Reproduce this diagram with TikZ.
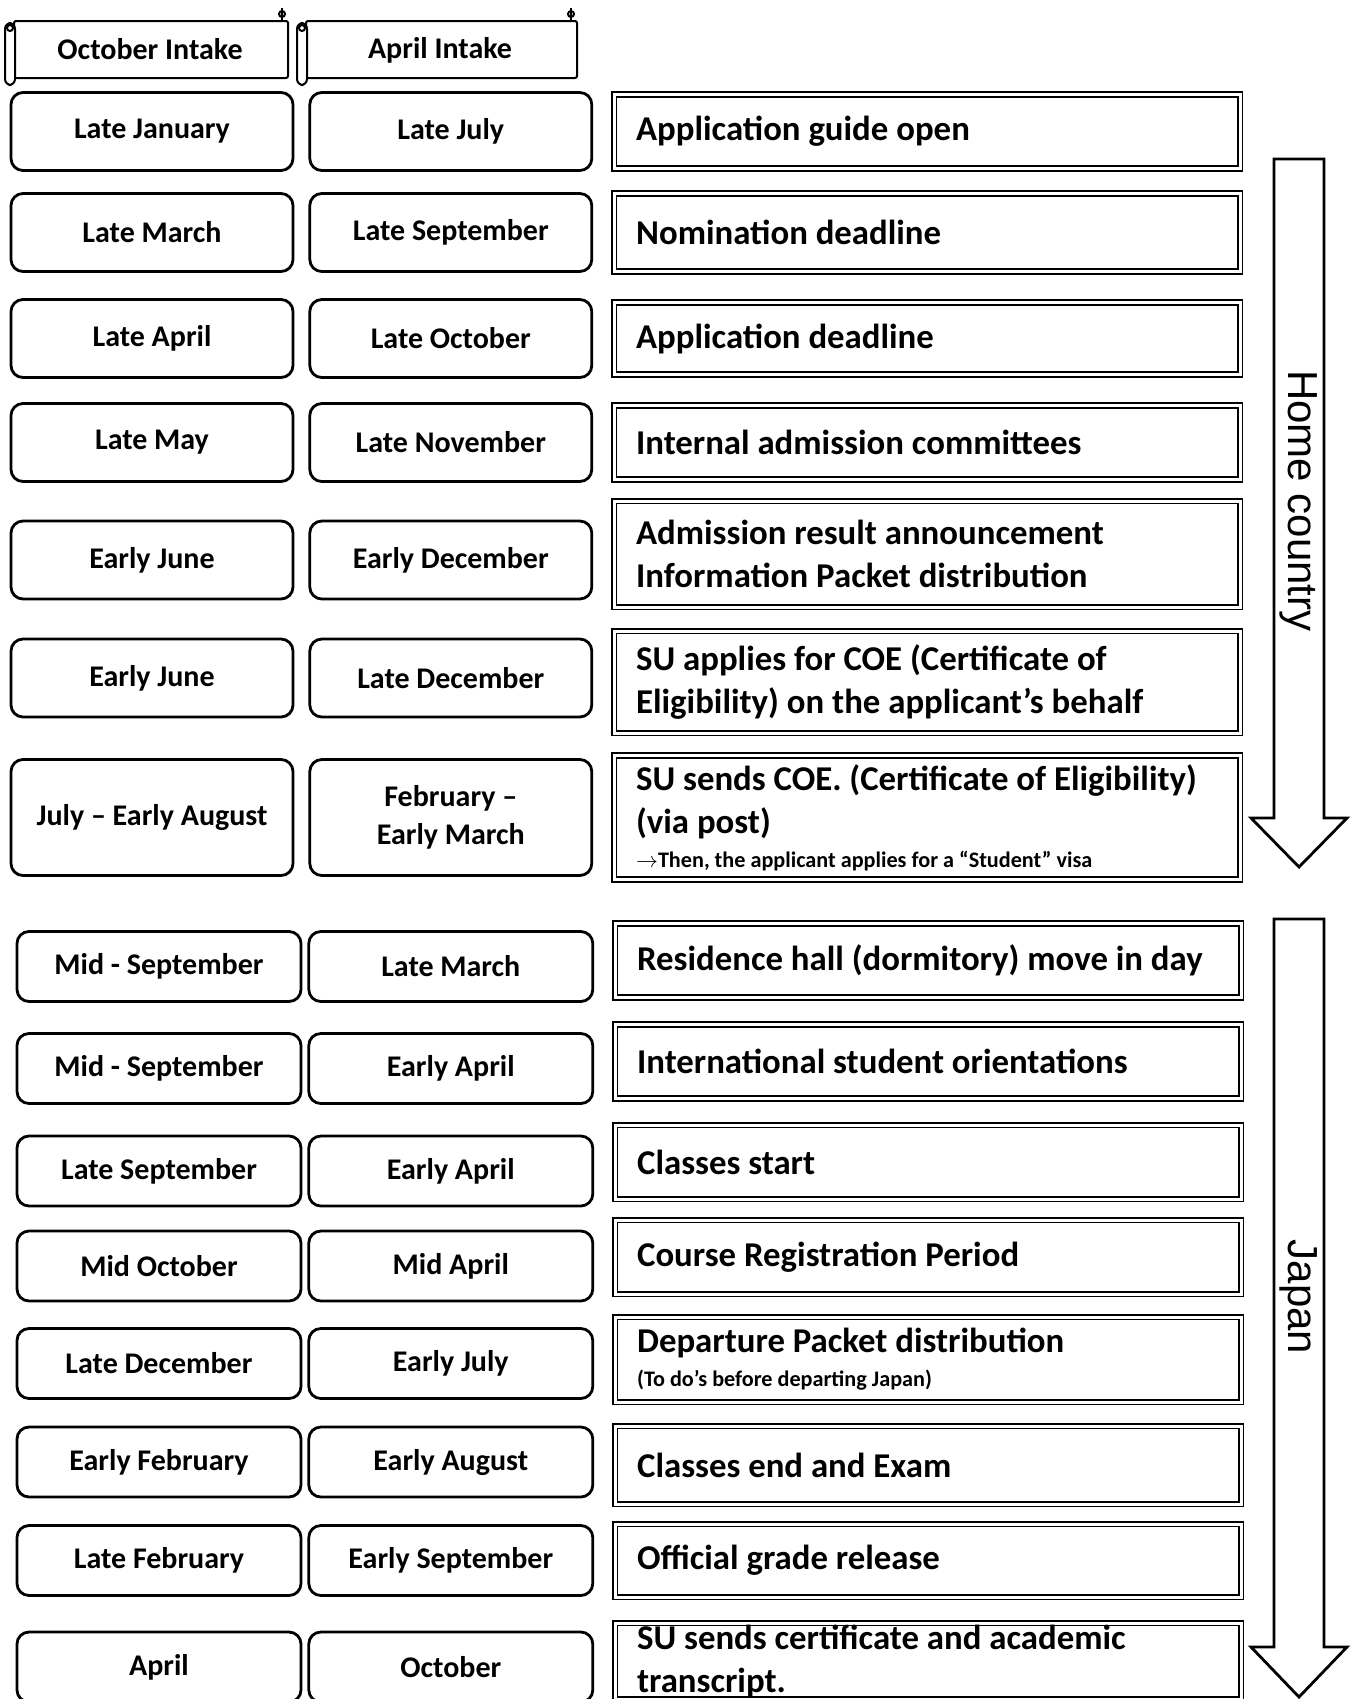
\documentclass[tikz,border=0pt]{standalone}
\usepackage{fontspec}
\setmainfont{Carlito}
\newfontfamily\sidefont{Liberation Sans}
\usepackage{tikz}
\usetikzlibrary{positioning}
\newcommand{\monfont}{\fontsize{15}{19}\selectfont\bfseries}
\newcommand{\evfont}{\fontsize{17.4}{21.5}\selectfont\bfseries}
\newcommand{\notefont}{\fontsize{11.1}{17}\selectfont\bfseries}
\tikzstyle{mon}=[%
      rectangle, rounded corners=6pt, draw=black, line width=1.4pt, fill=none,
      minimum height=39pt, minimum width=141pt, inner sep=3pt, align=center, font=\monfont
]
\tikzstyle{ev}=[%
      rectangle, draw=black, double, line width=0.9pt, double distance=1.5pt,
      text width=291pt, inner xsep=11pt, inner ysep=2pt, align=flush left, font=\evfont
]
\tikzstyle{hd}=[font=\monfont, inner sep=0pt]
\tikzstyle{scroll}=[draw=black, line width=1pt]
\tikzstyle{bigarrow}=[draw=black, line width=1.4pt, line join=miter]
\tikzstyle{side}=[font=\sidefont\fontsize{21}{24}\selectfont, rotate=-90, inner sep=0pt]

\begin{document}
\begin{tikzpicture}[x=0.5pt, y=-0.5pt]
    \useasboundingbox (0,0) rectangle (1359,1699);

    % intake headers
    \draw[scroll, rounded corners=1pt] (14,21) rectangle (288,78);
    \draw[scroll, rounded corners=3pt, fill=white] (5,23) rectangle (15,85);
    \draw[scroll] (10,28) circle[radius=1.5pt];
    \draw[scroll] (282,21) -- (282,8);
    \draw[scroll] (282,14) circle[radius=1.5pt];
    \draw[scroll, rounded corners=1pt] (306,21) rectangle (577,78);
    \draw[scroll, rounded corners=3pt, fill=white] (297,23) rectangle (307,85);
    \draw[scroll] (302,28) circle[radius=1.5pt];
    \draw[scroll] (571,21) -- (571,8);
    \draw[scroll] (571,14) circle[radius=1.5pt];
    \node[hd] (ho) at (150,49) {October Intake};
    \node[hd] (ha) at (440,50) {April Intake};

    % home country
    \node[mon]                     (o1) at (152,131.5)    {Late January};
    \node[mon]                     (a1) [right = 7pt of o1] {Late July};
    \node[ev, minimum height=37pt] (e1) [right = 10pt of a1] {Application guide open};

    \node[mon]                     (o2) at (152,232.5)    {Late March};
    \node[mon]                     (a2) [right = 7pt of o2] {Late September};
    \node[ev, minimum height=39pt] (e2) [right = 10pt of a2] {Nomination deadline};

    \node[mon]                     (o3) at (152,338.5)    {Late April};
    \node[mon]                     (a3) [right = 7pt of o3] {Late October};
    \node[ev, minimum height=36pt] (e3) [right = 10pt of a3] {Application deadline};

    \node[mon]                     (o4) at (152,442.5)    {Late May};
    \node[mon]                     (a4) [right = 7pt of o4] {Late November};
    \node[ev, minimum height=37pt] (e4) [right = 10pt of a4] {Internal admission committees};

    \node[mon]                     (o5) at (152,560)      {Early June};
    \node[mon]                     (a5) [right = 7pt of o5] {Early December};
    \node[ev, minimum height=53pt] (e5) [right = 10pt of a5, yshift=3pt]
          {Admission result announcement\\Information Packet distribution};

    \node[mon]                     (o6) at (152,678)      {Early June};
    \node[mon]                     (a6) [right = 7pt of o6] {Late December};
    \node[ev, minimum height=51pt] (e6) [right = 10pt of a6, yshift=-2pt]
          {SU applies for COE (Certificate of\\Eligibility) on the applicant’s behalf};

    \node[mon, minimum height=58pt] (o7) at (152,817.5)   {July -- Early August};
    \node[mon, minimum height=58pt] (a7) [right = 7pt of o7] {February --\\Early March};
    \node[ev, minimum height=62pt]  (e7) [right = 10pt of a7]
          {SU sends COE. (Certificate of Eligibility)\\(via post)\par
           {\notefont $\rightarrow$Then, the applicant applies for a “Student” visa\par}};

    \draw[bigarrow] (1274,159) -- (1324,159) -- (1324,818) -- (1347,818) -- (1299,867)
                    -- (1251,818) -- (1274,818) -- cycle;
    \node[side] (hc) at (1299,501) {Home country};

    % japan
    \node[mon, minimum height=35pt, minimum width=142pt] (o8) at (159,966.5) {Mid - September};
    \node[mon, minimum height=35pt, minimum width=142pt] (a8) [right = 2.5pt of o8] {Late March};
    \node[ev, minimum height=37pt] (e8) [right = 10pt of a8, yshift=3pt] {Residence hall (dormitory) move in day};

    \node[mon, minimum height=35pt, minimum width=142pt] (o9) at (159,1068.5) {Mid - September};
    \node[mon, minimum height=35pt, minimum width=142pt] (a9) [right = 2.5pt of o9] {Early April};
    \node[ev, minimum height=37pt] (e9) [right = 10pt of a9, yshift=3.5pt] {International student orientations};

    \node[mon, minimum height=35pt, minimum width=142pt] (o10) at (159,1171) {Late September};
    \node[mon, minimum height=35pt, minimum width=142pt] (a10) [right = 2.5pt of o10] {Early April};
    \node[ev, minimum height=37pt] (e10) [right = 10pt of a10, yshift=4.5pt] {Classes start};

    \node[mon, minimum height=35pt, minimum width=142pt] (o11) at (159,1266) {Mid October};
    \node[mon, minimum height=35pt, minimum width=142pt] (a11) [right = 2.5pt of o11] {Mid April};
    \node[ev, minimum height=37pt] (e11) [right = 10pt of a11, yshift=4.5pt] {Course Registration Period};

    \node[mon, minimum height=35pt, minimum width=142pt] (o12) at (159,1363.5) {Late December};
    \node[mon, minimum height=35pt, minimum width=142pt] (a12) [right = 2.5pt of o12] {Early July};
    \node[ev, minimum height=42.5pt] (e12) [right = 10pt of a12, yshift=2pt]
          {Departure Packet distribution\par{\notefont (To do's before departing Japan)\par}};

    \node[mon, minimum height=35pt, minimum width=142pt] (o13) at (159,1462) {Early February};
    \node[mon, minimum height=35pt, minimum width=142pt] (a13) [right = 2.5pt of o13] {Early August};
    \node[ev, minimum height=39pt] (e13) [right = 10pt of a13, yshift=-1.5pt] {Classes end and Exam};

    \node[mon, minimum height=35pt, minimum width=142pt] (o14) at (159,1560.5) {Late February};
    \node[mon, minimum height=35pt, minimum width=142pt] (a14) [right = 2.5pt of o14] {Early September};
    \node[ev, minimum height=36.5pt] (e14) [right = 10pt of a14] {Official grade release};

    \node[mon, minimum height=35pt, minimum width=142pt] (o15) at (159,1667) {April};
    \node[mon, minimum height=35pt, minimum width=142pt] (a15) [right = 2.5pt of o15] {October};
    \node[ev, minimum height=38pt, inner ysep=0pt] (e15) [right = 10pt of a15, yshift=3pt]
          {SU sends  certificate and academic\\transcript.};

    \draw[bigarrow] (1274,919) -- (1324,919) -- (1324,1647) -- (1347,1647) -- (1299,1697)
                    -- (1251,1647) -- (1274,1647) -- cycle;
    \node[side] (jp) at (1299,1297) {Japan};
\end{tikzpicture}
\end{document}
